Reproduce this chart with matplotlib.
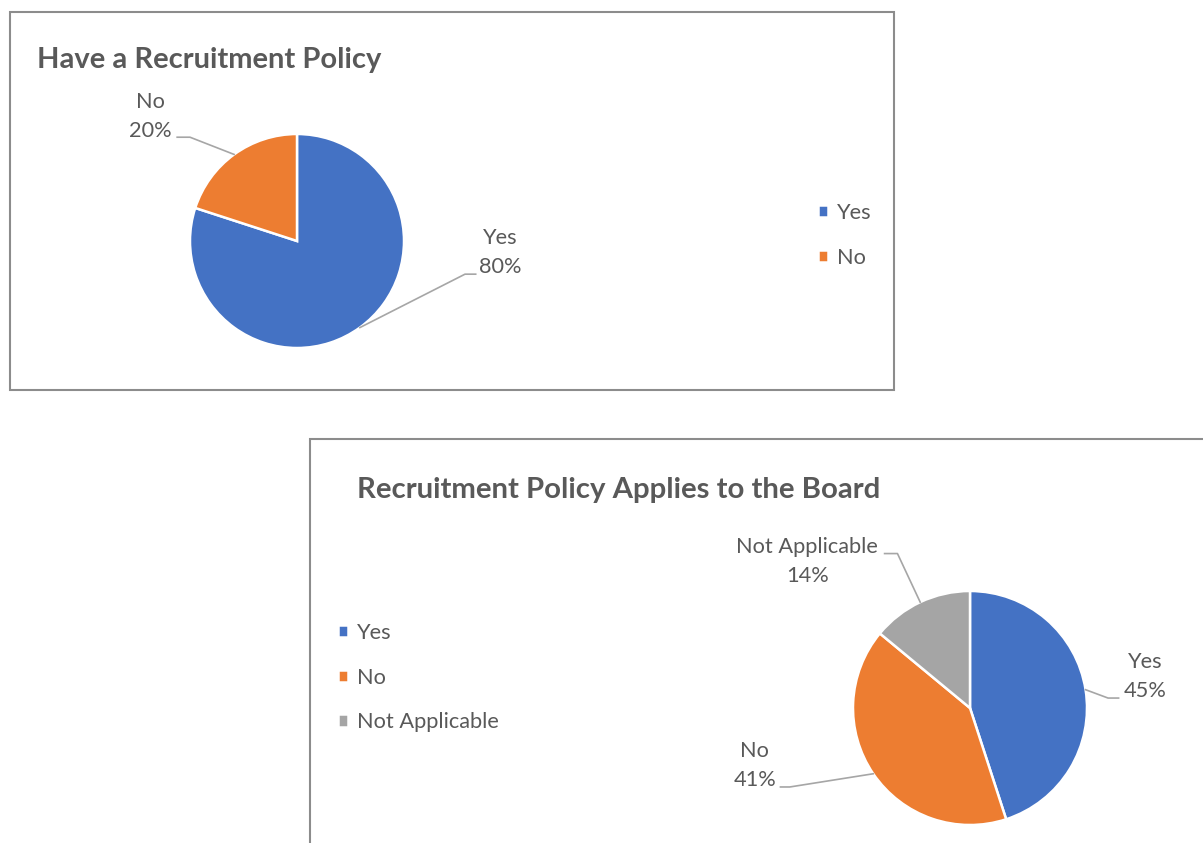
import numpy as np
import matplotlib.pyplot as plt
from matplotlib.patches import Rectangle

W, H = 1203, 843

# Data
labels_1 = ["Yes", "No"]
values_1 = [80, 20]
labels_2 = ["Yes", "No", "Not Applicable"]
values_2 = [45, 41, 14]

COLORS = ["#4472C4", "#ED7D31", "#A5A5A5"]
TEXT = "#595959"
LEADER = "#A6A6A6"
BORDER = "#8C8C8C"
FS = 15.7

plt.rcParams["font.family"] = ["Lato", "DejaVu Sans"]


def fx(x):
    return x / W


def fy(y):
    return 1 - y / H


def pie_axes(fig, cx, cy, r):
    return fig.add_axes([fx(cx - r), fy(cy + r), 2 * r / W, 2 * r / H])


def draw_pie(ax, values, labels, placements):
    wedges, _ = ax.pie(values, colors=COLORS[:len(values)], startangle=90,
                       counterclock=False, radius=1,
                       wedgeprops=dict(edgecolor="white", linewidth=1.8))
    ax.set_xlim(-1, 1)
    ax.set_ylim(-1, 1)
    ax.set_aspect("equal")
    ax.axis("off")
    total = sum(values)
    for w, lab, v, (elbow, end_x, txt) in zip(wedges, labels, values, placements):
        mid = np.deg2rad((w.theta1 + w.theta2) / 2)
        x0, y0 = np.cos(mid), np.sin(mid)
        ax.plot([x0, elbow[0], end_x], [y0, elbow[1], elbow[1]],
                color=LEADER, lw=1.2, clip_on=False)
        ax.text(txt[0], txt[1], f"{lab}\n{v / total * 100:.0f}%", ha="center",
                va="center", fontsize=FS, color=TEXT, linespacing=1.55,
                clip_on=False)
    return wedges


fig = plt.figure(figsize=(W / 100, H / 100), dpi=100)

# chart borders
fig.patches.append(Rectangle((fx(10), fy(390)), (894 - 10) / W, (390 - 12) / H,
                             transform=fig.transFigure, fill=False,
                             edgecolor=BORDER, lw=1.5))
fig.patches.append(Rectangle((fx(310), fy(860)), (1220 - 310) / W, (860 - 439) / H,
                             transform=fig.transFigure, fill=False,
                             edgecolor=BORDER, lw=1.5))

# titles
fig.text(fx(37), fy(60), "Have a Recruitment Policy", fontsize=21,
         fontweight="bold", color=TEXT, va="center", ha="left")
fig.text(fx(357), fy(490), "Recruitment Policy Applies to the Board", fontsize=21.2,
         fontweight="bold", color=TEXT, va="center", ha="left")

# pie 1
ax1 = pie_axes(fig, 297, 241, 107)
w1 = draw_pie(ax1, values_1, labels_1, [
    ((1.57, -0.31), 1.67, (1.90, -0.11)),
    ((-1.0, 0.97), -1.12, (-1.37, 1.16)),
])

# pie 2
ax2 = pie_axes(fig, 970, 708, 117)
w2 = draw_pie(ax2, values_2, labels_2, [
    ((1.18, 0.085), 1.27, (1.50, 0.27)),
    ((-1.54, -0.675), -1.62, (-1.84, -0.49)),
    ((-0.62, 1.32), -0.73, (-1.39, 1.25)),
])

legend_kw = dict(frameon=False, fontsize=FS, labelcolor=TEXT,
                 handlelength=0.48, handleheight=0.48, handletextpad=0.4,
                 labelspacing=1.13, borderpad=0, borderaxespad=0)
fig.legend(w1, labels_1, loc="upper left",
           bbox_to_anchor=(fx(818), fy(203)), **legend_kw)
fig.legend(w2, labels_2, loc="upper left",
           bbox_to_anchor=(fx(338), fy(623)), **legend_kw)

fig.savefig("out.png", dpi=100, facecolor="white")
